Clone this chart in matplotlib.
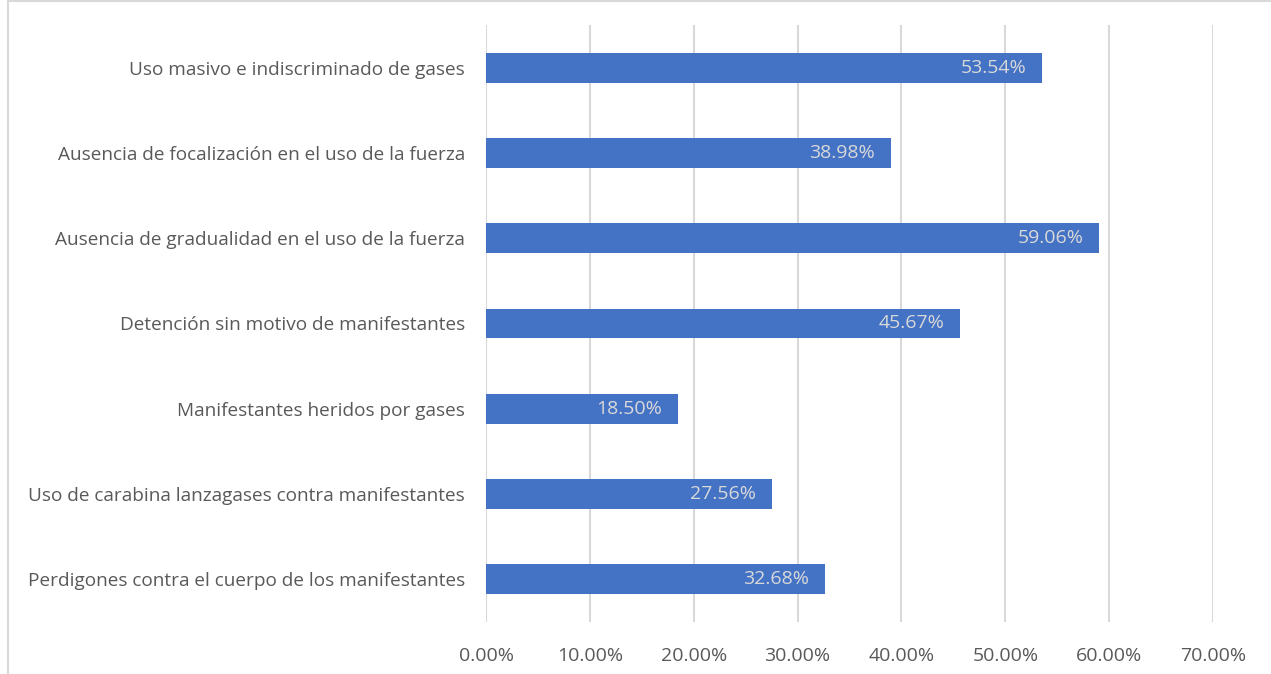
import matplotlib.pyplot as plt
from matplotlib.ticker import FuncFormatter

categories = [
    'Uso masivo e indiscriminado de gases',
    'Ausencia de focalización en el uso de la fuerza',
    'Ausencia de gradualidad en el uso de la fuerza',
    'Detención sin motivo de manifestantes',
    'Manifestantes heridos por gases',
    'Uso de carabina lanzagases contra manifestantes',
    'Perdigones contra el cuerpo de los manifestantes',
]
values = [53.54, 38.98, 59.06, 45.67, 18.50, 27.56, 32.68]
xticks = [0, 10, 20, 30, 40, 50, 60, 70]

plt.rcParams['font.family'] = ['Open Sans', 'DejaVu Sans']

fig = plt.figure(figsize=(12.71, 6.74), dpi=100)
ax = fig.add_axes([0.3824, 0.0772, 0.572, 0.8857])

ypos = list(range(len(categories)))
ax.barh(ypos, values, height=0.35, color='#4472C4', zorder=3)
ax.set_ylim(len(categories) - 0.5, -0.5)
ax.set_xlim(0, 70)
ax.set_xticks(xticks)
ax.xaxis.set_major_formatter(FuncFormatter(lambda v, p: f'{v:.2f}%'))
ax.set_yticks(ypos)
ax.set_yticklabels(categories)

ax.grid(axis='x', color='#D9D9D9', linewidth=1.5, zorder=0)
for s in ax.spines.values():
    s.set_visible(False)
ax.tick_params(axis='both', length=0, colors='#595959')
ax.tick_params(axis='x', pad=18, labelsize=14)
ax.tick_params(axis='y', pad=15, labelsize=13.7)

for y, v in zip(ypos, values):
    ax.annotate(f'{v:.2f}%', (v, y), xytext=(-11.5, 0), textcoords='offset points',
                ha='right', va='center', color='#D9D9D9', fontsize=14, zorder=4)

# light border around the chart area
fig.add_artist(plt.Line2D([8 / 1271, 8 / 1271], [0, 1 - 1 / 674], color='#D9D9D9', linewidth=1.5))
fig.add_artist(plt.Line2D([8 / 1271, 1], [1 - 1 / 674, 1 - 1 / 674], color='#D9D9D9', linewidth=1.5))

fig.savefig('out.png', dpi=100)
